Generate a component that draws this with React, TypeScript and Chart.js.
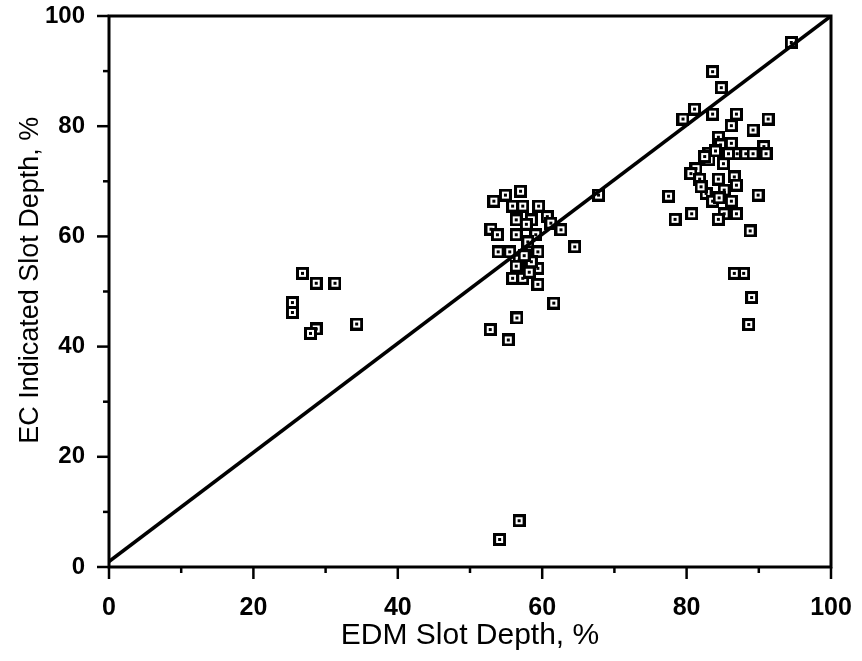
import React, { useEffect, useRef } from 'react';
import { Chart, registerables } from 'chart.js';

Chart.register(...registerables);

const edmDepth = [
  26.8, 28.7, 31.3, 25.4, 25.4, 28.7, 27.9, 34.3,
  57.0, 54.9, 53.3, 67.8, 55.9, 57.3, 59.5, 56.4, 58.5, 60.7, 52.9, 53.8, 56.4, 59.1, 62.6, 61.2,
  64.5, 53.9, 55.5, 58.5, 59.4, 56.8, 56.4, 59.4, 58.5, 55.9, 57.3, 59.4, 61.6, 56.5, 52.8, 55.3,
  54.1, 56.8, 57.8, 58.0, 57.5, 58.2,
  83.6, 84.8, 81.1, 79.5, 83.6, 86.9, 91.3, 86.2, 89.2, 86.2, 84.4, 84.7, 90.7, 83.1, 87.0, 88.2,
  89.2, 91.0, 83.1, 85.1, 81.3, 80.6, 81.8, 84.4, 86.6, 86.9, 85.2, 82.7, 77.5, 89.9, 83.6, 86.2,
  80.7, 78.4, 85.2, 86.9, 84.4, 88.8, 87.9, 86.6, 89.0, 88.6, 94.5, 82.5, 84.0, 85.8, 82.0, 84.5
];
const ecDepth = [
  53.3, 51.5, 51.5, 48.0, 46.2, 43.2, 42.4, 44.1,
  68.2, 67.5, 66.4, 67.5, 65.5, 65.5, 65.5, 63.0, 63.0, 63.6, 61.3, 60.3, 60.3, 60.3, 61.2, 62.4,
  58.1, 57.2, 57.2, 57.2, 57.2, 55.7, 54.6, 54.2, 55.4, 52.4, 52.4, 51.3, 47.9, 45.2, 43.1, 41.2,
  5.0, 8.4, 62.2, 59.0, 56.5, 53.5,
  89.9, 87.0, 83.1, 81.3, 82.2, 82.2, 81.3, 80.1, 79.3, 76.9, 78.0, 76.6, 76.3, 75.1, 75.0, 75.0,
  75.0, 75.0, 73.9, 73.2, 72.3, 71.4, 70.4, 70.4, 70.8, 69.3, 68.4, 67.8, 67.3, 67.5, 66.4, 66.4,
  64.1, 63.1, 64.1, 64.1, 63.1, 61.0, 53.3, 53.3, 48.9, 44.0, 95.2, 74.5, 75.5, 75.0, 69.0, 67.0
];
const fitLineX = [0, 100];
const fitLineY = [1, 100];
const majorTicks = [0, 20, 40, 60, 80, 100];
const minorTicks = [10, 30, 50, 70, 90];

function makeMarker(): HTMLCanvasElement {
  const c = document.createElement('canvas');
  c.width = 13;
  c.height = 13;
  const g = c.getContext('2d')!;
  g.fillStyle = '#000';
  g.fillRect(0, 0, 13, 13);
  g.fillStyle = '#fff';
  g.fillRect(3, 3, 7, 7);
  g.fillStyle = '#000';
  g.fillRect(5, 5, 3, 3);
  return c;
}

const framePlugin = {
  id: 'frame',
  afterDatasetsDraw(chart: any) {
    const { ctx, chartArea: a, scales } = chart;
    ctx.save();
    ctx.strokeStyle = '#000';
    ctx.lineWidth = 3;
    ctx.strokeRect(a.left, a.top, a.right - a.left, a.bottom - a.top);
    ctx.lineWidth = 2.5;
    const drawTicks = (vals: number[], len: number) => {
      vals.forEach((v) => {
        const px = scales.x.getPixelForValue(v);
        ctx.beginPath();
        ctx.moveTo(px, a.bottom);
        ctx.lineTo(px, a.bottom + len);
        ctx.stroke();
        const py = scales.y.getPixelForValue(v);
        ctx.beginPath();
        ctx.moveTo(a.left, py);
        ctx.lineTo(a.left - len, py);
        ctx.stroke();
      });
    };
    drawTicks(majorTicks, 12);
    drawTicks(minorTicks, 6);
    ctx.restore();
  },
};

export default function App() {
  const ref = useRef<HTMLCanvasElement>(null);
  useEffect(() => {
    document.body.style.margin = '0';
    const marker = makeMarker();
    const points = edmDepth.map((x, i) => ({ x, y: ecDepth[i] }));
    const line = fitLineX.map((x, i) => ({ x, y: fitLineY[i] }));
    const chart = new Chart(ref.current!, {
      type: 'scatter',
      data: {
        datasets: [
          {
            type: 'line',
            data: line,
            borderColor: '#000',
            borderWidth: 3.5,
            pointRadius: 0,
            fill: false,
          } as any,
          {
            data: points,
            pointStyle: marker as any,
            pointRadius: 6.5,
            backgroundColor: '#000',
            borderColor: '#000',
          },
        ],
      },
      options: {
        animation: false,
        responsive: false,
        layout: { padding: { top: 16, right: 31, left: 0, bottom: 0 } },
        plugins: { legend: { display: false }, tooltip: { enabled: false } },
        scales: {
          x: {
            type: 'linear',
            min: 0,
            max: 100,
            afterFit: (s: any) => { s.height = 94; s.paddingLeft = 0; s.paddingRight = 0; },
            grid: { display: false, drawTicks: false },
            border: { display: false },
            ticks: { stepSize: 20, color: '#000', font: { family: 'Liberation Sans', size: 25, weight: 'bold' }, padding: 26 },
            title: {
              display: true,
              text: 'EDM Slot Depth, %',
              color: '#000',
              font: { family: 'Liberation Sans', size: 30, weight: 'normal' },
              padding: { top: 0, bottom: 7 },
            },
          },
          y: {
            type: 'linear',
            min: 0,
            max: 100,
            afterFit: (s: any) => { s.width = 109; s.paddingTop = 0; s.paddingBottom = 0; },
            grid: { display: false, drawTicks: false },
            border: { display: false },
            ticks: { stepSize: 20, color: '#000', font: { family: 'Liberation Sans', size: 24, weight: 'bold' }, padding: 24 },
            title: {
              display: true,
              text: '   EC Indicated Slot Depth, %',
              color: '#000',
              font: { family: 'Liberation Sans', size: 27, weight: 'normal' },
              padding: { top: 14, bottom: 0 },
            },
          },
        },
      },
      plugins: [framePlugin],
    });
    return () => chart.destroy();
  }, []);
  return (
    <div style={{ position: 'fixed', left: 0, top: 0, width: 862, height: 661, background: '#fff' }}>
      <canvas ref={ref} width={862} height={661} />
    </div>
  );
}
